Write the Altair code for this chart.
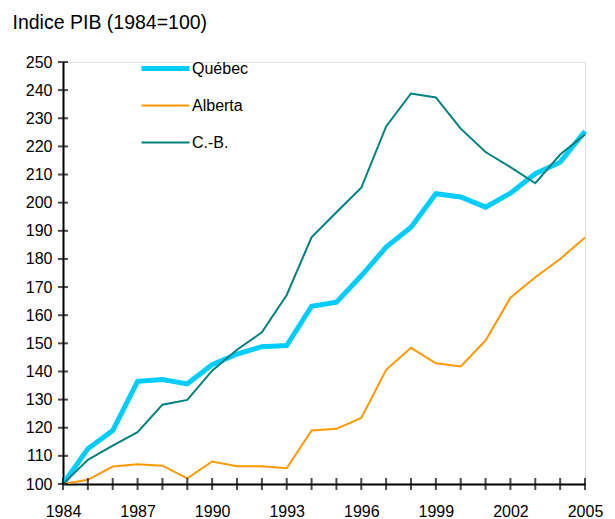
import altair as alt
import pandas as pd

years = list(range(1984, 2006))
quebec = [100, 112.5, 119, 136.5, 137.1, 135.6, 142.4, 146.2, 148.8, 149.2, 163.2,
          164.6, 174, 184.2, 191.3, 203.2, 202, 198.4, 203.4, 210.3, 214.4, 225.4]
alberta = [100, 101.5, 106.2, 107, 106.5, 102, 108, 106.3, 106.3, 105.6, 119,
           119.6, 123.5, 140.6, 148.4, 142.9, 141.8, 151, 166.2, 173.5, 180, 187.6]
cb = [100, 108.6, 113.6, 118.4, 128.2, 129.9, 140.3, 147.7, 153.9, 167.2, 187.7,
      196.6, 205.3, 227.1, 238.8, 237.4, 226.3, 218, 212.6, 206.9, 217.1, 224.2]

series_names = ["Québec", "Alberta", "C.-B."]
series_colors = ["#00CCFF", "#FF9900", "#008080"]
series_widths = [5, 2, 2]

x_label_years = [1984, 1987, 1990, 1993, 1996, 1999, 2002, 2005]
y_ticks = list(range(100, 251, 10))

rows = []
for name, vals in zip(series_names, [quebec, alberta, cb]):
    for y, v in zip(years, vals):
        rows.append({"year": y, "value": v, "region": name})
df = pd.DataFrame(rows)

xscale = alt.Scale(domain=[1984, 2005], nice=False, zero=False)
yscale = alt.Scale(domain=[100, 250], nice=False, zero=False)


def x_axis():
    return alt.Axis(values=x_label_years, format="d", title=None, grid=False,
                    ticks=False, tickSize=0, labelPadding=19, labelFlush=False,
                    labelOverlap=False,
                    domainColor="black", domainWidth=2, labelFontSize=16,
                    labelFont="Liberation Sans", labelColor="black")


def y_axis():
    return alt.Axis(values=y_ticks, tickCount=16, title="Indice PIB (1984=100)", grid=False,
                    ticks=False, tickSize=0, labelPadding=11, labelOverlap=False,
                    domainColor="black", domainWidth=2, labelFontSize=16,
                    labelFont="Liberation Sans", labelColor="black",
                    titleAngle=0, titleX=-51, titleY=-34, titleAlign="left",
                    titleBaseline="alphabetic", titleFontSize=19.5,
                    titleFontWeight="normal", titleFont="Liberation Sans",
                    titleColor="black")


def make_legend():
    return alt.Legend(
        title=None, orient="none", legendX=76, legendY=-12, symbolType="stroke",
        symbolSize=2300, clipHeight=37, rowPadding=0, padding=0, labelOffset=0,
        labelFontSize=16, labelFont="Liberation Sans", labelColor="black",
    )


lines = alt.Chart(df).mark_line().encode(
    x=alt.X("year:Q", scale=xscale, axis=x_axis()),
    y=alt.Y("value:Q", scale=yscale, axis=y_axis()),
    color=alt.Color("region:N", sort=series_names,
                    scale=alt.Scale(domain=series_names, range=series_colors),
                    legend=make_legend()),
    strokeWidth=alt.StrokeWidth("region:N", sort=series_names,
                                scale=alt.Scale(type="ordinal", domain=series_names,
                                                range=series_widths),
                                legend=make_legend()),
    order=alt.Order("year:Q"),
    detail="region:N",
)

xt = pd.DataFrame({"year": years, "value": [100] * len(years)})
yt = pd.DataFrame({"value": y_ticks, "year": [1984] * len(y_ticks)})

xticks = alt.Chart(xt).mark_tick(orient="vertical", size=12, thickness=2, color="black").encode(
    x=alt.X("year:Q", scale=xscale, axis=x_axis()),
    y=alt.Y("value:Q", scale=yscale, axis=y_axis()))
yticks = alt.Chart(yt).mark_tick(orient="horizontal", size=10, thickness=2, color="black").encode(
    x=alt.X("year:Q", scale=xscale, axis=x_axis()),
    y=alt.Y("value:Q", scale=yscale, axis=y_axis()))

chart = alt.layer(lines, xticks, yticks).properties(
    width=522, height=422,
    autosize=alt.AutoSizeParams(type="none"),
    padding={"left": 55, "top": 54, "right": 22, "bottom": 36},
).configure_view(stroke=None).configure(background="white")

chart.save("out.html", embed_options={"renderer": "svg", "actions": False})
